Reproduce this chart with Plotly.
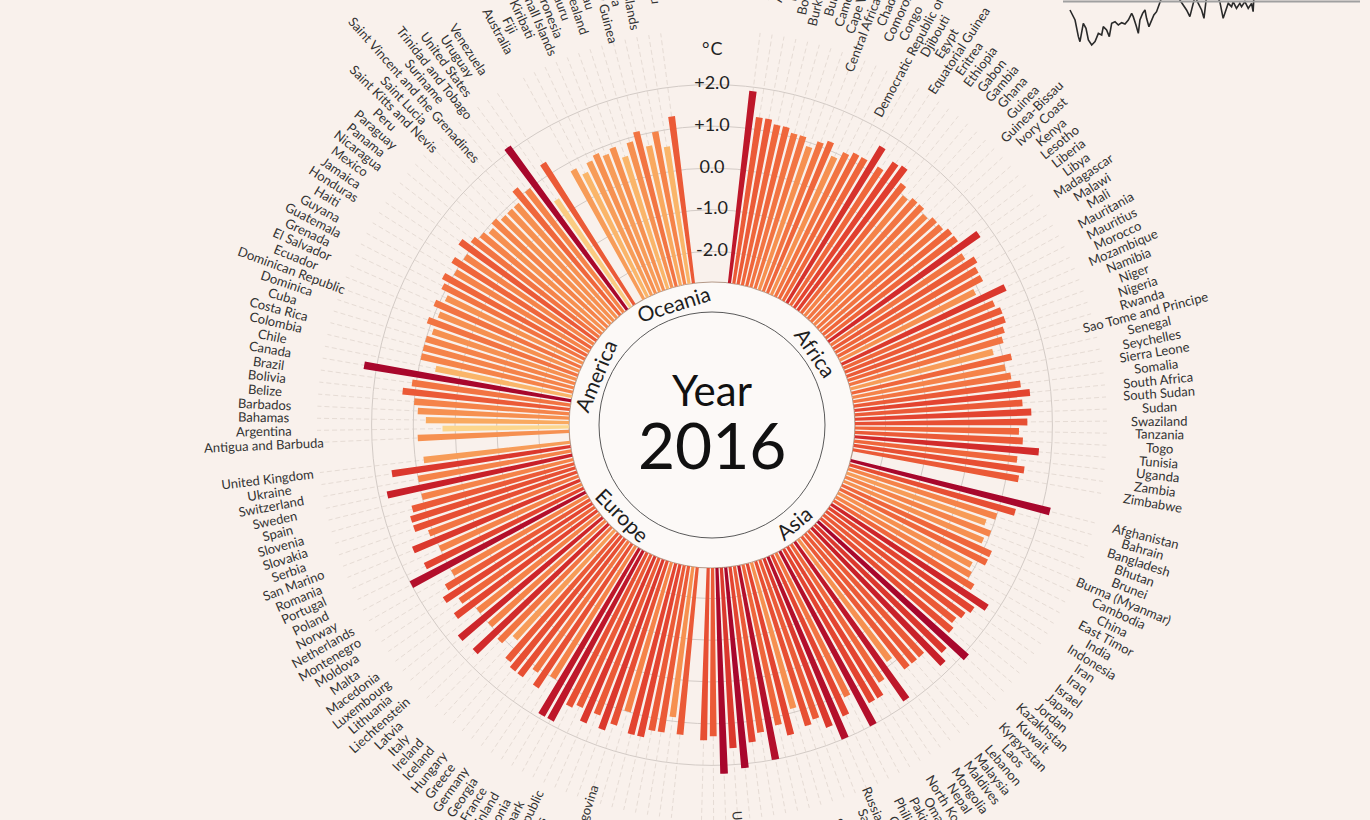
import math
import plotly.graph_objects as go

# ---------------- data ----------------
AFRICA = ["Algeria", "Angola", "Benin", "Botswana", "Burkina Faso", "Burundi", "Cameroon",
          "Cape Verde", "Central African Republic", "Chad", "Comoros", "Congo",
          "Democratic Republic of the Congo", "Djibouti", "Egypt", "Equatorial Guinea",
          "Eritrea", "Ethiopia", "Gabon", "Gambia", "Ghana", "Guinea", "Guinea-Bissau",
          "Ivory Coast", "Kenya", "Lesotho", "Liberia", "Libya", "Madagascar", "Malawi",
          "Mali", "Mauritania", "Mauritius", "Morocco", "Mozambique", "Namibia", "Niger",
          "Nigeria", "Rwanda", "Sao Tome and Principe", "Senegal", "Seychelles",
          "Sierra Leone", "Somalia", "South Africa", "South Sudan", "Sudan", "Swaziland",
          "Tanzania", "Togo", "Tunisia", "Uganda", "Zambia", "Zimbabwe"]
AFRICA_ANOM = [1.9, 1.3, 1.3, 1.2, 1.2, 1.1, 1.1, 0.9, 1.1, 1.2, 0.9, 1.1, 1.2, 1.2, 1.65,
               1.2, 1.5, 1.55, 1.2, 1.0, 1.1, 1.1, 1.0, 1.1, 1.1, 1.2, 1.2, 1.7, 1.1, 1.3,
               1.2, 1.2, 0.9, 1.6, 1.2, 1.3, 1.3, 1.2, 1.1, 0.8, 1.2, 1.0, 1.1, 1.3, 1.5,
               1.3, 1.5, 1.4, 1.2, 1.3, 1.7, 1.2, 1.4, 1.3]

ASIA = ["Afghanistan", "Bahrain", "Bangladesh", "Bhutan", "Brunei", "Burma (Myanmar)",
        "Cambodia", "China", "East Timor", "India", "Indonesia", "Iran", "Iraq", "Israel",
        "Japan", "Jordan", "Kazakhstan", "Kuwait", "Kyrgyzstan", "Laos", "Lebanon",
        "Malaysia", "Maldives", "Mongolia", "Nepal", "North Korea", "Oman", "Pakistan",
        "Philippines", "Qatar", "Russian Federation", "Saudi Arabia", "Singapore",
        "South Korea", "Sri Lanka", "Syria", "Taiwan", "Tajikistan", "Thailand", "Turkey",
        "Turkmenistan", "United Arab Emirates", "Uzbekistan", "Vietnam", "Yemen"]
ASIA_ANOM = [2.2, 1.4, 1.0, 0.8, 1.0, 0.9, 1.2, 1.2, 0.9, 1.0, 1.2, 1.75, 1.5, 1.4, 1.3,
             1.4, 2.1, 1.6, 1.8, 1.3, 1.3, 1.3, 0.9, 1.9, 1.2, 1.5, 1.5, 2.0, 1.1, 1.5,
             2.0, 1.6, 1.3, 1.4, 0.9, 1.5, 1.2, 2.0, 1.3, 1.5, 2.1, 1.6, 2.2, 1.3, 1.4]

EUROPE = ["Albania", "Andorra", "Armenia", "Austria", "Azerbaijan", "Belarus", "Belgium",
          "Bosnia and Herzegovina", "Bulgaria", "Croatia", "Cyprus", "Czech Republic",
          "Denmark", "Estonia", "Finland", "France", "Georgia", "Germany", "Greece",
          "Hungary", "Iceland", "Ireland", "Italy", "Latvia", "Liechtenstein", "Lithuania",
          "Luxembourg", "Macedonia", "Malta", "Moldova", "Montenegro", "Netherlands",
          "Norway", "Poland", "Portugal", "Romania", "San Marino", "Serbia", "Slovakia",
          "Slovenia", "Spain", "Sweden", "Switzerland", "Ukraine", "United Kingdom"]
EUROPE_ANOM = [1.3, 0.9, 1.3, 1.3, 1.5, 1.5, 1.0, 1.4, 1.6, 1.3, 1.6, 1.3, 1.4, 1.9, 1.9,
               1.0, 1.4, 1.1, 1.4, 1.4, 1.3, 0.8, 1.1, 1.7, 1.0, 1.75, 1.0, 1.5, 1.2, 1.5,
               1.3, 1.0, 2.0, 1.5, 1.0, 1.6, 1.1, 1.4, 1.4, 1.3, 1.0, 1.8, 1.0, 1.6, 0.8]

AMERICA = ["Antigua and Barbuda", "Argentina", "Bahamas", "Barbados", "Belize", "Bolivia",
           "Brazil", "Canada", "Chile", "Colombia", "Costa Rica", "Cuba", "Dominica",
           "Dominican Republic", "Ecuador", "El Salvador", "Grenada", "Guatemala", "Guyana",
           "Haiti", "Honduras", "Jamaica", "Mexico", "Nicaragua", "Panama", "Paraguay",
           "Peru", "Saint Kitts and Nevis", "Saint Lucia", "Saint Vincent and the Grenadines",
           "Suriname", "Trinidad and Tobago", "United States", "Uruguay", "Venezuela"]
AMERICA_ANOM = [0.9, 0.3, 0.7, 0.9, 1.0, 1.3, 1.1, 2.3, 0.6, 1.0, 1.0, 1.0, 0.9, 1.1, 0.9,
                1.1, 0.9, 1.1, 1.2, 1.0, 1.2, 1.0, 1.3, 1.1, 1.0, 0.9, 1.0, 0.9, 0.9, 0.9,
                1.2, 1.0, 2.1, 0.4, 1.3]

OCEANIA = ["Australia", "Fiji", "Kiribati", "Marshall Islands", "Micronesia", "Nauru",
           "New Zealand", "Palau", "Papua New Guinea", "Samoa", "Solomon Islands", "Tonga",
           "Vanuatu"]
OCEANIA_ANOM = [0.8, 0.6, 0.8, 0.9, 0.8, 0.9, 0.6, 0.9, 1.1, 0.7, 1.0, 0.6, 1.3]

REGION_NAMES = ["Africa", "Asia", "Europe", "America", "Oceania"]
REGION_LABEL_ANGLE = [55, 140, 225, 293, 342.5]

YEAR = 2016
TICKS = [-2.0, -1.0, 0.0, 1.0, 2.0]
TICK_TEXT = ["-2.0", "-1.0", "0.0", "+1.0", "+2.0"]
UNIT_TEXT = "°&#8202;C"

SPARK_YEARS = [1900.0, 1903.2, 1905.3, 1906.3, 1908.4, 1910.1, 1911.6, 1913.7, 1915.8,
               1917.9, 1920.0, 1921.0, 1923.1, 1924.8, 1926.3, 1928.4, 1930.5, 1932.6,
               1934.7, 1936.8, 1938.9, 1939.9, 1941.6, 1943.1, 1944.1, 1945.8, 1947.3,
               1948.3, 1949.8, 1951.5, 1952.9, 1954.6, 1956.7, 1958.8, 1963.0, 1967.2,
               1969.3, 1971.4, 1973.5, 1975.6, 1977.3, 1978.8, 1980.9, 1983.0, 1984.5,
               1986.1, 1990.3, 1994.5, 1996.6, 1998.3, 1999.8, 2001.9, 2002.9, 2005.0,
               2007.1, 2008.2, 2010.3, 2012.4, 2014.5, 2015.5, 2016.0]
SPARK_VALUES = [-0.30, -0.60, -1.10, -1.25, -0.70, -0.85, -1.20, -1.35, -1.25, -1.00,
                -1.05, -0.80, -0.90, -1.10, -0.70, -0.65, -0.75, -0.68, -0.72, -0.60,
                -0.40, -0.50, -0.75, -1.00, -0.60, -0.40, -0.30, -0.55, -0.80, -0.60,
                -0.45, -0.35, -0.10, 0.20, 0.30, 0.20, 0.00, -0.15, -0.30, -0.50, -0.20,
                0.10, -0.10, -0.30, -0.55, 0.10, 0.30, -0.05, -0.55, -0.30, -0.10, -0.20,
                -0.05, -0.25, -0.10, -0.20, -0.05, -0.25, -0.10, -0.35, 0.10]

# ---------------- geometry / style ----------------
W, H = 1370, 820
CX, CY = 712, 425
R_ZERO = 257.0
PX_PER_C = 41.7
R_BASE_PX = 143.0
R_OUT_PX = 395.0
R_INNER_PX = 113.0
R_LABEL_PX = 448.0
R_REGION_PX = 127.0
R_UNIT_PX = 377.0
STEP = 1.754
START = 7.0
GAP = 2.5
BG = "#f9f1ec"
FONT = "Lato"


def val_at(px):
    return (px - R_ZERO) / PX_PER_C


RMIN = val_at(R_BASE_PX)
RMAX = val_at(R_OUT_PX)


def paper(theta, rpx):
    t = math.radians(theta)
    return (CX + rpx * math.sin(t)) / W, 1 - (CY - rpx * math.cos(t)) / H


regions = [AFRICA, ASIA, EUROPE, AMERICA, OCEANIA]
anoms = [AFRICA_ANOM, ASIA_ANOM, EUROPE_ANOM, AMERICA_ANOM, OCEANIA_ANOM]

names, values, thetas = [], [], []
pos = 0.0
for reg, an in zip(regions, anoms):
    for n, v in zip(reg, an):
        names.append(n)
        values.append(v)
        thetas.append(START + pos * STEP)
        pos += 1
    pos += GAP - 1

colorscale = [[0.0, "#fcd68d"], [0.2, "#f9ae62"], [0.38, "#f5854a"],
              [0.52, "#ee6139"], [0.68, "#e2412f"], [0.83, "#c92029"], [1.0, "#a8072c"]]

fig = go.Figure()

fig.add_trace(go.Barpolar(
    r=[v - RMIN for v in values], base=RMIN, theta=thetas,
    width=STEP * 0.72,
    marker=dict(color=values, colorscale=colorscale, cmin=0.3, cmax=2.1,
                line=dict(width=0)),
    text=names, hoverinfo="text", showlegend=False,
))

fig.add_trace(go.Scatterpolar(
    r=TICKS, theta=[0] * len(TICKS), text=TICK_TEXT, mode="text",
    textposition="middle center",
    textfont=dict(family=FONT, size=18, color="#222222"),
    showlegend=False, hoverinfo="skip",
))

fig.add_trace(go.Scatter(
    x=SPARK_YEARS, y=SPARK_VALUES, mode="lines", xaxis="x", yaxis="y",
    line=dict(color="#2a2a2a", width=1.6), showlegend=False, hoverinfo="skip",
))

annotations = []
for n, th in zip(names, thetas):
    x, y = paper(th, R_LABEL_PX)
    ang = th - 90 if th < 180 else th - 270
    annotations.append(dict(x=x, y=y, xref="paper", yref="paper", text=n,
                            showarrow=False, textangle=ang, xanchor="center",
                            yanchor="middle",
                            font=dict(family=FONT, size=13, color="#333333")))

for rn, th in zip(REGION_NAMES, REGION_LABEL_ANGLE):
    x, y = paper(th, R_REGION_PX)
    ang = th if (th < 90 or th > 270) else th - 180
    if ang > 180:
        ang -= 360
    annotations.append(dict(x=x, y=y, xref="paper", yref="paper", text=rn,
                            showarrow=False, textangle=ang, xanchor="center",
                            yanchor="middle",
                            font=dict(family=FONT, size=21, color="#1e1e1e")))

ux, uy = paper(0, R_UNIT_PX)
annotations.append(dict(x=ux, y=uy, xref="paper", yref="paper", text=UNIT_TEXT,
                        showarrow=False, xanchor="center", yanchor="middle",
                        font=dict(family=FONT, size=18, color="#222222")))
annotations.append(dict(x=CX / W, y=1 - 390 / H, xref="paper", yref="paper", text="Year",
                        showarrow=False, xanchor="center", yanchor="middle",
                        font=dict(family=FONT, size=42, color="#111111")))
annotations.append(dict(x=CX / W, y=1 - 444 / H, xref="paper", yref="paper", text=str(YEAR),
                        showarrow=False, xanchor="center", yanchor="middle",
                        font=dict(family=FONT, size=64, color="#111111")))

shapes = [
    dict(type="circle", xref="paper", yref="paper", layer="below",
         x0=(CX - R_BASE_PX) / W, x1=(CX + R_BASE_PX) / W,
         y0=1 - (CY + R_BASE_PX) / H, y1=1 - (CY - R_BASE_PX) / H,
         fillcolor="#fcf9f7", line=dict(color="#b49a8a", width=1.2)),
    dict(type="circle", xref="paper", yref="paper", layer="below",
         x0=(CX - R_INNER_PX) / W, x1=(CX + R_INNER_PX) / W,
         y0=1 - (CY + R_INNER_PX) / H, y1=1 - (CY - R_INNER_PX) / H,
         line=dict(color="#5a5a5a", width=1)),
    dict(type="line", xref="paper", yref="paper", x0=1063 / W, x1=1360 / W,
         y0=1 - 1.5 / H, y1=1 - 1.5 / H, line=dict(color="#a0a0a0", width=2)),
]

fig.update_layout(
    width=W, height=H, margin=dict(l=0, r=0, t=0, b=0),
    paper_bgcolor=BG, plot_bgcolor="rgba(0,0,0,0)",
    showlegend=False,
    polar=dict(
        domain=dict(x=[(CX - R_OUT_PX) / W, (CX + R_OUT_PX) / W],
                    y=[1 - (CY + R_OUT_PX) / H, 1 - (CY - R_OUT_PX) / H]),
        hole=R_BASE_PX / R_OUT_PX,
        bgcolor="rgba(0,0,0,0)",
        radialaxis=dict(range=[RMIN, RMAX], tickvals=TICKS, showticklabels=False,
                        ticks="", showline=False, gridcolor="#d3cbc6", gridwidth=1),
        angularaxis=dict(rotation=90, direction="clockwise", thetaunit="degrees",
                         tickvals=thetas, showticklabels=False, ticks="",
                         showline=False, gridcolor="#e6dcd5", gridwidth=1,
                         griddash="5px,3px"),
    ),
    xaxis=dict(domain=[1050 / W, 1.0], range=[1887.4, 2089.2], visible=False),
    yaxis=dict(domain=[1 - 50 / H, 1.0], range=[-1.5, 0.0], visible=False),
    annotations=annotations,
    shapes=shapes,
)

fig.write_html(
    "out.html",
    config={"displayModeBar": False},
    post_script="document.body.style.margin='0';"
                "document.body.style.background='" + BG + "';"
                "document.body.style.overflow='hidden';",
)
